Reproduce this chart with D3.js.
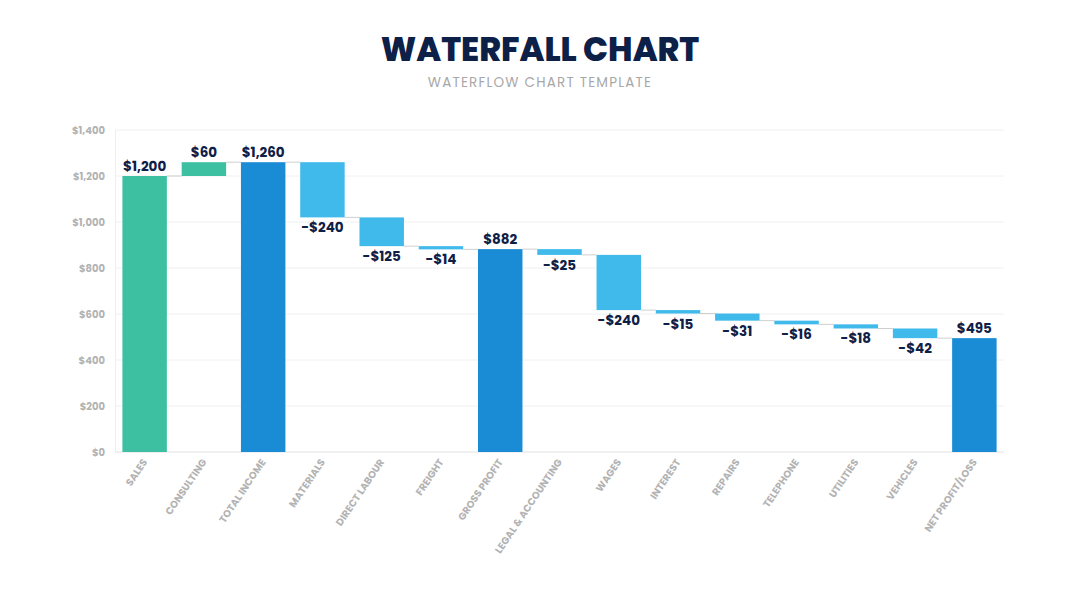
<!DOCTYPE html>
<html>
<head>
<meta charset="utf-8">
<script src="https://cdn.jsdelivr.net/npm/d3@7"></script>
<style>
  body { margin: 0; background: #fff; }
  svg { display: block; font-family: "Poppins", "Inter", "Roboto", sans-serif; }
</style>
</head>
<body>
<div id="chart"></div>
<script>
// data
const categories = ["SALES", "CONSULTING", "TOTAL INCOME", "MATERIALS", "DIRECT LABOUR", "FREIGHT",
  "GROSS PROFIT", "LEGAL & ACCOUNTING", "WAGES", "INTEREST", "REPAIRS", "TELEPHONE", "UTILITIES",
  "VEHICLES", "NET PROFIT/LOSS"];
const values = [1200, 60, 1260, -240, -125, -14, 882, -25, -240, -15, -31, -16, -18, -42, 495];
// kind: start / up / total / down
const kinds = ["start", "up", "total", "down", "down", "down", "total", "down", "down", "down",
  "down", "down", "down", "down", "total"];
const yTicks = [0, 200, 400, 600, 800, 1000, 1200, 1400];

const width = 1080, height = 608;
const margin = { top: 130, right: 76, bottom: 156, left: 115 };
const innerW = width - margin.left - margin.right;
const innerH = height - margin.top - margin.bottom;

const colors = { start: "#3dbfa1", up: "#3dbfa1", total: "#1a8bd5", down: "#40b9eb" };

// running totals
let running = 0;
const bars = categories.map((c, i) => {
  let v = values[i], y0, y1;
  if (kinds[i] === "start" || kinds[i] === "total") {
    y0 = 0; y1 = v; running = v;
  } else {
    y0 = running; y1 = running + v; running = y1;
  }
  return { name: c, value: v, kind: kinds[i], y0: y0, y1: y1, end: y1 };
});

const svg = d3.select("#chart").append("svg")
  .attr("width", width)
  .attr("height", height);

// title
svg.append("text")
  .attr("x", width / 2).attr("y", 61)
  .attr("text-anchor", "middle")
  .attr("font-size", 33)
  .attr("font-weight", 800)
  .attr("fill", "#0c2048")
  .text("WATERFALL CHART");

svg.append("text")
  .attr("x", width / 2).attr("y", 87)
  .attr("text-anchor", "middle")
  .attr("font-size", 13.5)
  .attr("letter-spacing", "1.2px")
  .attr("fill", "#a8a8a8")
  .text("WATERFLOW CHART TEMPLATE");

const g = svg.append("g")
  .attr("transform", "translate(" + margin.left + "," + margin.top + ")");

const x = d3.scaleBand().domain(categories).range([0, innerW]).paddingInner(0.25).paddingOuter(0.125);
const y = d3.scaleLinear().domain([0, 1400]).range([innerH, 0]);

// grid
g.append("g")
  .selectAll("line")
  .data(yTicks)
  .join("line")
  .attr("x1", 0).attr("x2", innerW)
  .attr("y1", d => y(d)).attr("y2", d => y(d))
  .attr("stroke", d => d === 0 ? "#e2e2e2" : "#f0f0f0")
  .attr("stroke-width", 1);

g.append("line")
  .attr("x1", 0.5).attr("x2", 0.5)
  .attr("y1", y(1400)).attr("y2", y(0))
  .attr("stroke", "#eeeeee");

// y axis labels
const yAxis = d3.axisLeft(y).tickValues(yTicks).tickSize(0).tickPadding(10)
  .tickFormat(d => "$" + d3.format(",")(d));
g.append("g")
  .call(yAxis)
  .call(s => s.select(".domain").remove())
  .selectAll("text")
  .attr("font-size", 10)
  .attr("font-weight", 700)
  .attr("fill", "#b3b3b3")
  .attr("font-family", "Poppins, Inter, Roboto, sans-serif");

// connectors
g.append("g")
  .selectAll("line")
  .data(bars.slice(0, -1))
  .join("line")
  .attr("x1", d => x(d.name) + x.bandwidth())
  .attr("x2", (d, i) => x(bars[i + 1].name))
  .attr("y1", d => y(d.end))
  .attr("y2", d => y(d.end))
  .attr("stroke", "#cfcfcf")
  .attr("stroke-width", 1);

// bars
g.append("g")
  .selectAll("rect")
  .data(bars)
  .join("rect")
  .attr("x", d => x(d.name))
  .attr("width", x.bandwidth())
  .attr("y", d => y(Math.max(d.y0, d.y1)))
  .attr("height", d => Math.abs(y(d.y0) - y(d.y1)))
  .attr("fill", d => colors[d.kind]);

// value labels
const fmt = v => (v < 0 ? "-$" : "$") + d3.format(",")(Math.abs(v));
g.append("g")
  .selectAll("text")
  .data(bars)
  .join("text")
  .attr("x", d => x(d.name) + x.bandwidth() / 2)
  .attr("y", d => d.value < 0 ? y(Math.min(d.y0, d.y1)) + 15 : y(Math.max(d.y0, d.y1)) - 5)
  .attr("text-anchor", "middle")
  .attr("font-size", 13.5)
  .attr("font-weight", 700)
  .attr("fill", "#0f2047")
  .text(d => fmt(d.value));

// x labels
g.append("g")
  .selectAll("text")
  .data(bars)
  .join("text")
  .attr("transform", d => "translate(" + (x(d.name) + x.bandwidth() / 2 + 3) + "," + (innerH + 10) + ") rotate(-56)")
  .attr("text-anchor", "end")
  .attr("font-size", 10)
  .attr("font-weight", 700)
  .attr("fill", "#b3b3b3")
  .text(d => d.name);
</script>
</body>
</html>
